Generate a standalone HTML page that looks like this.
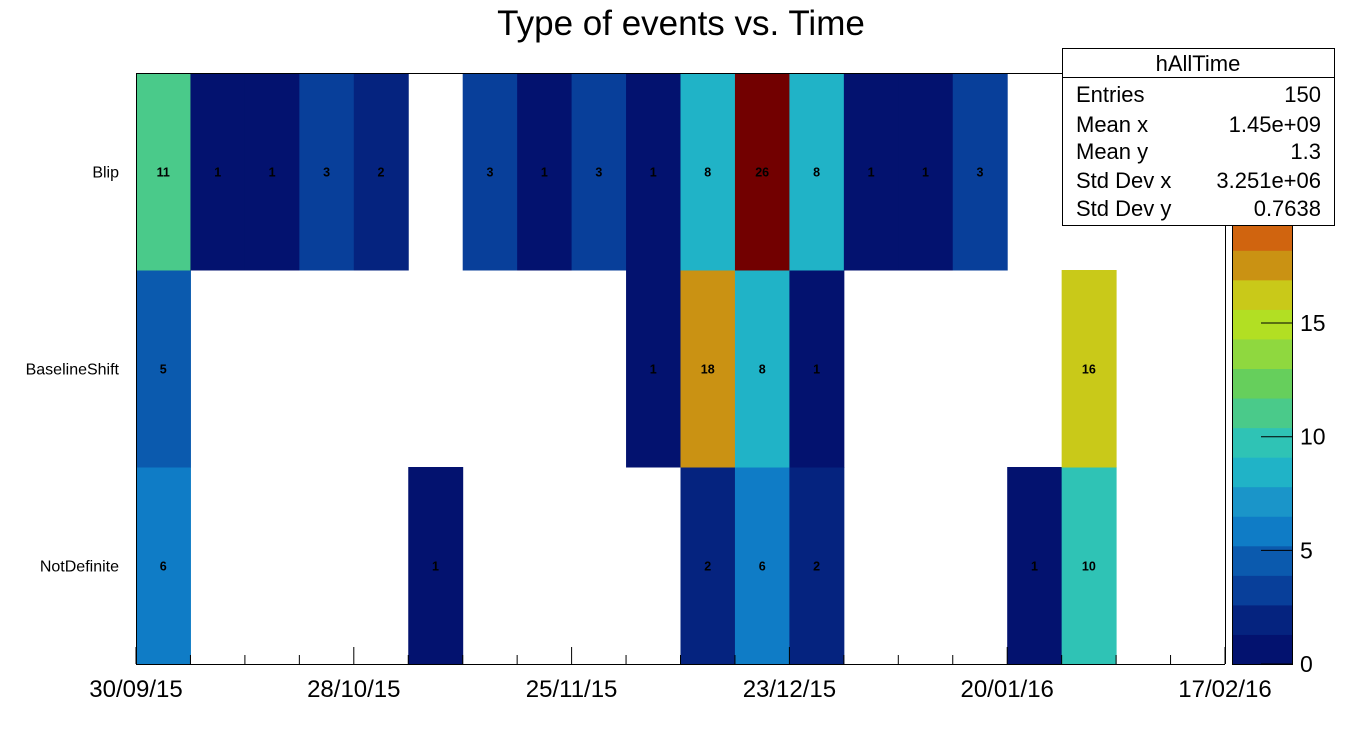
<!DOCTYPE html>
<html><head><meta charset="utf-8"><style>
html,body{margin:0;padding:0;background:#fff;}
svg{display:block;font-family:"Liberation Sans",sans-serif;}
</style></head><body>
<svg id="chart" width="1362" height="740" viewBox="0 0 1362 740">
<rect width="1362" height="740" fill="#fff"/>
<text x="681" y="35" font-size="35" text-anchor="middle">Type of events vs. Time</text>
<g id="cells"></g>
<g id="frame"></g>
<g id="stats">
<rect x="1062.5" y="48.5" width="272" height="177" fill="#fff" stroke="#000" stroke-width="1"/>
<line x1="1062" y1="77.5" x2="1335" y2="77.5" stroke="#000"/>
<text x="1198" y="71" font-size="22" text-anchor="middle">hAllTime</text>
<g font-size="22">
<text x="1076" y="102">Entries</text><text x="1321" y="102" text-anchor="end">150</text>
<text x="1076" y="132">Mean x</text><text x="1321" y="132" text-anchor="end">1.45e+09</text>
<text x="1076" y="159">Mean y</text><text x="1321" y="159" text-anchor="end">1.3</text>
<text x="1076" y="188">Std Dev x</text><text x="1321" y="188" text-anchor="end">3.251e+06</text>
<text x="1076" y="216">Std Dev y</text><text x="1321" y="216" text-anchor="end">0.7638</text>
</g>
</g>
</svg>
<script>
const categories = ["NotDefinite","BaselineShift","Blip"];
const blipValues = [11,1,1,3,2,0,3,1,3,1,8,26,8,1,1,3,0,0,0,0];
const baselineValues = [5,0,0,0,0,0,0,0,0,1,18,8,1,0,0,0,0,16,0,0];
const notDefiniteValues = [6,0,0,0,0,1,0,0,0,0,2,6,2,0,0,0,1,10,0,0];
const xTickLabels = ["30/09/15","28/10/15","25/11/15","23/12/15","20/01/16","17/02/16"];
const zTickValues = [0,5,10,15];
const zMax = 26;

const palette = ["#03126f","#05237f","#083f9a","#0b5aae","#0f7cc6","#1a95c9","#20b3c7","#2fc3b5","#4aca8a","#66cf5c","#8fd83f","#b2df23","#c9c919","#ca9213","#d0640f","#c84a0c","#b53008","#9c1a04","#850a01","#720000"];
const NS="http://www.w3.org/2000/svg";
const X0=136,X1=1225,Y0=73,Y1=664,NB=20;
const bw=(X1-X0)/NB, rh=(Y1-Y0)/categories.length;
function xPos(i){return X0+i*bw;}
function yPos(r){return Y1-(r+1)*rh;}
function zY(v){return Y1-v/zMax*(Y1-Y0);}
function colorOf(v){let k=Math.floor(v/(zMax/palette.length));return palette[Math.min(k,palette.length-1)];}
function mk(tag,attrs,parent){const e=document.createElementNS(NS,tag);for(const k in attrs)e.setAttribute(k,attrs[k]);parent.appendChild(e);return e;}
const svg=document.getElementById('chart');
const cells=document.getElementById('cells');
const frame=document.getElementById('frame');
const rows=[notDefiniteValues,baselineValues,blipValues];
rows.forEach((vals,r)=>{
  vals.forEach((v,i)=>{
    if(v<=0)return;
    const rc=mk('rect',{x:xPos(i),y:yPos(r),width:bw+0.5,height:rh+0.5,fill:colorOf(v)},cells);
    
    
    const t=mk('text',{x:xPos(i)+bw/2,y:yPos(r)+rh/2+5,'font-size':12.5,'font-weight':'bold','text-anchor':'middle'},cells);
    t.textContent=v;
    
    
  });
  const lb=mk('text',{x:119,y:yPos(r)+rh/2+6,'font-size':16,'text-anchor':'end'},frame);
  lb.textContent=categories[r];
  
  
});
mk('line',{x1:X0,y1:Y0+0.5,x2:1062,y2:Y0+0.5,stroke:'#000'},frame);
mk('line',{x1:X0,y1:Y1+0.5,x2:X1,y2:Y1+0.5,stroke:'#000'},frame);
mk('line',{x1:X0+0.5,y1:Y0,x2:X0+0.5,y2:Y1,stroke:'#000'},frame);
mk('line',{x1:X1+0.5,y1:226,x2:X1+0.5,y2:Y1,stroke:'#000'},frame);
for(let i=0;i<=NB;i++){
  const major=i%4===0;
  mk('line',{x1:xPos(i),y1:Y1,x2:xPos(i),y2:Y1-(major?17:9),stroke:'#000'},frame);
}
xTickLabels.forEach((s,j)=>{
  const t=mk('text',{x:xPos(j*4),y:697,'font-size':24,'text-anchor':'middle'},frame);
  t.textContent=s;
  
  
});
const cb=mk('g',{},svg);


const step=zMax/palette.length;
palette.forEach((c,k)=>{
  mk('rect',{x:1232,y:zY((k+1)*step),width:61,height:zY(k*step)-zY((k+1)*step)+0.5,fill:c},cb);
});
mk('rect',{x:1232.5,y:Y0+0.5,width:60,height:Y1-Y0,fill:'none',stroke:'#000','stroke-width':1},cb);
zTickValues.forEach(v=>{
  mk('line',{x1:1261,y1:zY(v),x2:1293,y2:zY(v),stroke:'#000'},cb);
  const t=mk('text',{x:1300,y:zY(v)+8,'font-size':23},cb);
  t.textContent=v;
  
  
});
svg.appendChild(document.getElementById('stats'));
</script>
</body></html>
